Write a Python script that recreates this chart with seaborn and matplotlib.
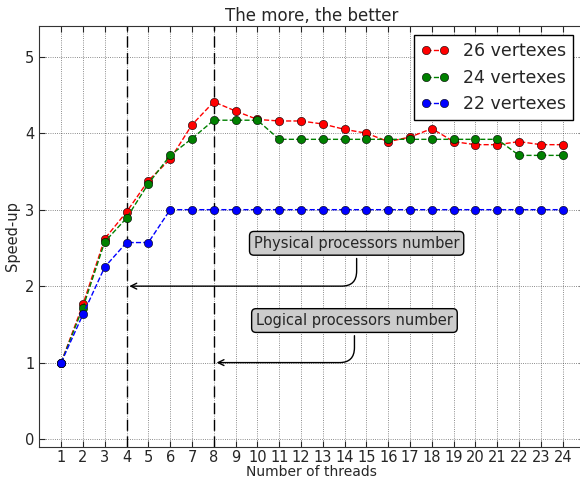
import pandas as pd
import seaborn as sns
import matplotlib
matplotlib.use("Agg")
import matplotlib.pyplot as plt

threads = list(range(1, 25))
v26 = [1.0, 1.76, 2.62, 2.97, 3.38, 3.66, 4.11, 4.41, 4.29, 4.18, 4.16, 4.16,
       4.12, 4.05, 4.0, 3.89, 3.95, 4.06, 3.89, 3.85, 3.85, 3.89, 3.85, 3.85]
v24 = [1.0, 1.72, 2.58, 2.89, 3.34, 3.71, 3.93, 4.17, 4.17, 4.17, 3.92, 3.92,
       3.92, 3.92, 3.92, 3.92, 3.92, 3.92, 3.92, 3.92, 3.92, 3.71, 3.71, 3.71]
v22 = [1.0, 1.63, 2.25, 2.57, 2.57, 3.0, 3.0, 3.0, 3.0, 3.0, 3.0, 3.0,
       3.0, 3.0, 3.0, 3.0, 3.0, 3.0, 3.0, 3.0, 3.0, 3.0, 3.0, 3.0]
series = ["26 vertexes", "24 vertexes", "22 vertexes"]
colors = ["red", "green", "blue"]
proc_lines = [4, 8]
notes = ["Physical processors number", "Logical processors number"]

sns.set_style("ticks", rc={
    "xtick.direction": "in", "ytick.direction": "in",
    "xtick.top": True, "ytick.right": True,
    "axes.edgecolor": "#333333",
})
plt.rcParams["font.family"] = ["DejaVu Sans"]

fig = plt.figure(figsize=(5.8, 4.79), dpi=100)
ax = fig.add_axes([0.0678, 0.0674, 0.94, 0.878])

df = pd.DataFrame({"threads": threads, series[0]: v26, series[1]: v24, series[2]: v22})
for name, col in zip(series, colors):
    sns.lineplot(data=df, x="threads", y=name, ax=ax, color=col, label=name,
                 linestyle="--", linewidth=1, marker="o", markersize=6,
                 markeredgecolor="black", markeredgewidth=0.4, zorder=3)

for xv in proc_lines:
    ax.axvline(xv, color="black", linestyle=(0, (8, 4)), linewidth=1, zorder=2)

ax.grid(True, linestyle=":", color="black", linewidth=0.6, alpha=0.6)
ax.set_xlim(0, 25)
ax.set_ylim(-0.1, 5.4)
ax.set_xticks(threads)
ax.set_yticks([0, 1, 2, 3, 4, 5])
ax.tick_params(labelsize=10.5, length=4)
ax.tick_params(axis="x", pad=2.5)
ax.set_xlabel("Number of threads", fontsize=10, labelpad=0)
ax.set_ylabel("Speed-up", fontsize=10.5)
ax.set_title("The more, the better", fontsize=12, pad=4)

box = dict(boxstyle="round,pad=0.3", fc="0.8", ec="black", lw=1)
ax.annotate(notes[0], xy=(proc_lines[0], 2), xytext=(14.55, 2.56),
            fontsize=10.5, ha="center", va="center", bbox=box,
            arrowprops=dict(arrowstyle="->", color="black", lw=1,
                            connectionstyle="angle,angleA=90,angleB=0,rad=15"))
ax.annotate(notes[1], xy=(proc_lines[1], 1), xytext=(14.45, 1.55),
            fontsize=10.5, ha="center", va="center", bbox=box,
            arrowprops=dict(arrowstyle="->", color="black", lw=1,
                            connectionstyle="angle,angleA=90,angleB=0,rad=15"))

leg = ax.legend(loc="upper right", bbox_to_anchor=(573 / 580, 444 / 479),
                bbox_transform=fig.transFigure, borderaxespad=0, numpoints=2,
                handlelength=1.6, fontsize=12.5, fancybox=False, framealpha=1)
leg.get_frame().set_edgecolor("black")

fig.savefig("out.png", dpi=100)
